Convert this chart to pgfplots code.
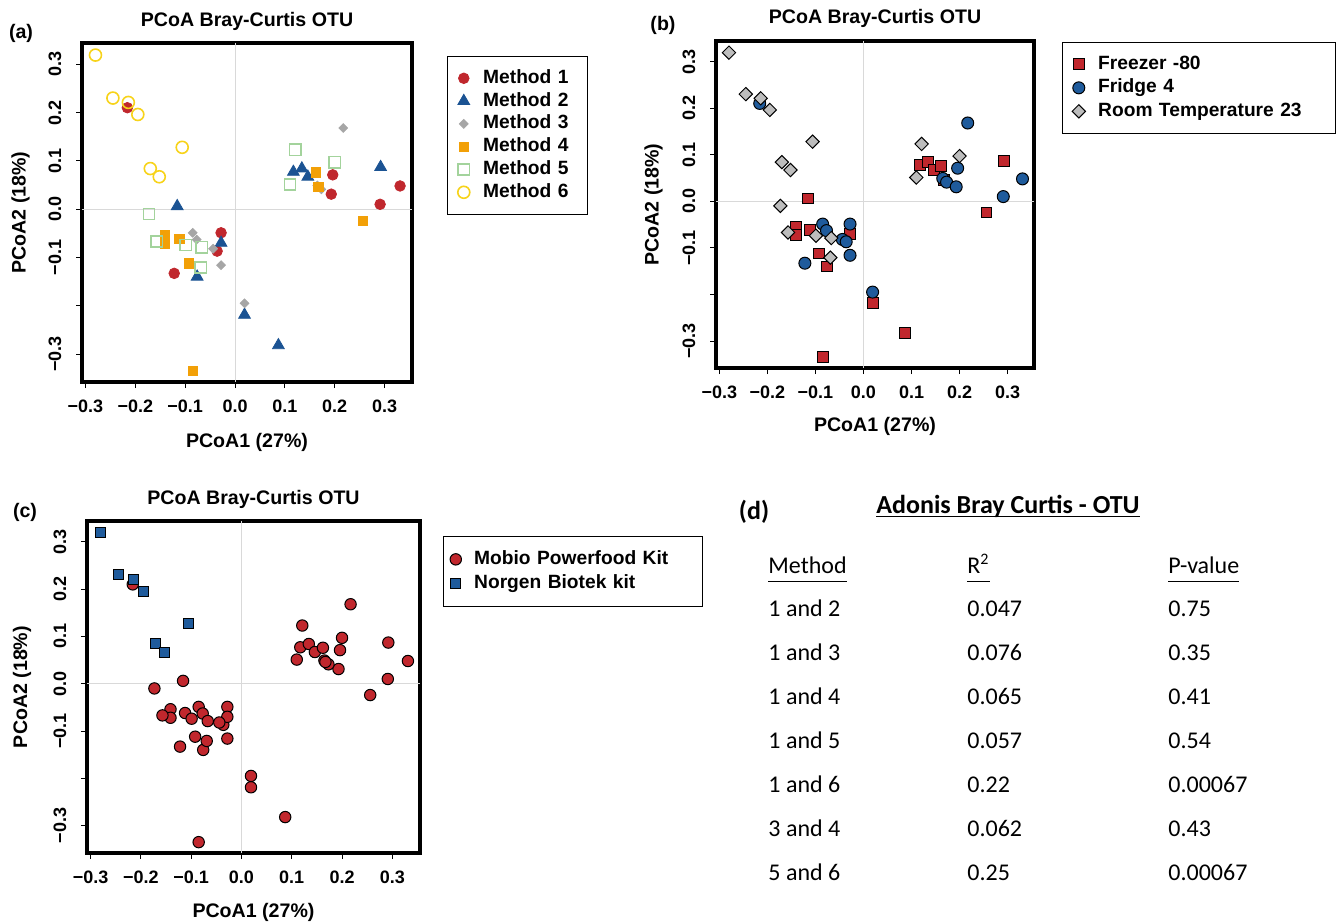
\documentclass[border=0pt]{standalone}
\usepackage{fontspec}
\setmainfont{Liberation Sans}
\newfontfamily\cali{Carlito}
\usepackage{pgfplots}
\pgfplotsset{compat=1.18}

\definecolor{mred}{HTML}{C0272D}
\definecolor{mblue}{HTML}{1B5393}
\definecolor{mgray}{HTML}{A6A6A6}
\definecolor{morange}{HTML}{F2A007}
\definecolor{mgreen}{HTML}{A3D39C}
\definecolor{myellow}{HTML}{F7D31A}
\definecolor{fred}{HTML}{C1272D}
\definecolor{fblue}{HTML}{1F5B9C}
\definecolor{fgray}{HTML}{BDBDBD}

\newcommand{\ulx}[2]{\setbox0\hbox{#2}\rlap{\rule[-#1]{\wd0}{0.6pt}}\box0}

\pgfplotsset{
  lgimg/.style 2 args={legend image code/.code={\path (-#1,0pt) (#2,0pt);
      \draw[##1] plot coordinates {(0pt,0pt)};}},
  pcoa/.style={
    scale only axis, anchor=north west,
    xmin=-0.307, xmax=0.355, ymin=-0.358, ymax=0.344,
    axis line style={line width=1.6pt},
    tick align=outside, xtick pos=left, ytick pos=left,
    major tick length=3pt,
    tick style={black, line width=0.5pt},
    xtick={-0.3,-0.2,-0.1,0,0.1,0.2,0.3},
    ytick={-0.3,-0.2,-0.1,0,0.1,0.2,0.3},
    xticklabels={−0.3,−0.2,−0.1,0.0,0.1,0.2,0.3},
    yticklabels={−0.3,{},−0.1,0.0,0.1,0.2,0.3},
    ticklabel style={font=\fontsize{9}{10}\selectfont\bfseries},
    xticklabel style={anchor=center, yshift=-9.25pt},
    yticklabel style={xshift=-10.5pt, rotate=90, anchor=center},
    extra x ticks={0}, extra y ticks={0},
    extra tick style={grid=major, major grid style={gray!30, line width=0.5pt},
      major tick length=0pt, xticklabel={}, yticklabel={}},
    title={PCoA Bray-Curtis OTU},
    xlabel={PCoA1 (27\%)}, ylabel={PCoA2 (18\%)},
    label style={font=\fontsize{9.8}{11}\selectfont\bfseries},
    title style={font=\fontsize{9.8}{11}\selectfont\bfseries, anchor=center,
      yshift=-7pt},
    legend cell align=left,
  },
}

\begin{document}
\begin{tikzpicture}
\path[use as bounding box] (0,0) rectangle (671pt,-461.5pt);

% ---------------- (a) by method
\begin{axis}[pcoa,
  at={(41pt,-21.5pt)}, width=165pt, height=169.5pt,
  title style={at={(axis description cs:0.5,1.069)}},
  xlabel style={at={(axis description cs:0.5,-0.178)}, anchor=center},
  ylabel style={at={(axis description cs:-0.186,0.5)}, anchor=center},
  legend style={at={(1.106,0.962)}, anchor=north west, inner xsep=0pt,
    inner ysep=5.3pt, row sep=0pt, column sep=0pt,
    font=\fontsize{9.6}{11}\selectfont\bfseries,
    nodes={inner xsep=1.5pt, inner ysep=1.2pt, text height=7pt,
      text depth=2pt, text width=50.5pt}},
]
\addplot[only marks, mark=*, mred, mark size=2.65pt, lgimg={8pt}{8pt}]
  coordinates {(-0.216,0.210)(-0.122,-0.133)(-0.036,-0.087)(-0.028,-0.049)
               (0.193,0.031)(0.196,0.071)(0.291,0.010)(0.331,0.048)};
\addlegendentry{Method 1}
\addplot[only marks, mark=triangle*, mblue, mark size=3.4pt, lgimg={8pt}{8pt}]
  coordinates {(-0.116,0.006)(-0.076,-0.140)(-0.028,-0.070)(0.019,-0.219)
               (0.087,-0.282)(0.117,0.077)(0.134,0.084)(0.146,0.067)(0.292,0.087)};
\addlegendentry{Method 2}
\addplot[only marks, mark=square*, mgray, mark size=1.55pt,
  mark options={rotate=45}, lgimg={8pt}{8pt}]
  coordinates {(-0.085,-0.049)(-0.077,-0.063)(-0.044,-0.082)(-0.028,-0.116)
               (0.019,-0.195)(0.165,0.049)(0.173,0.041)(0.217,0.168)};
\addlegendentry{Method 3}
\addplot[only marks, mark=square*, morange, mark size=2.35pt, lgimg={8pt}{8pt}]
  coordinates {(-0.141,-0.054)(-0.141,-0.072)(-0.112,-0.062)(-0.092,-0.112)
               (-0.085,-0.335)(0.162,0.076)(0.167,0.046)(0.256,-0.024)};
\addlegendentry{Method 4}
\addplot[only marks, mark=square, mgreen, mark size=2.8pt,
  mark options={line width=0.7pt}, lgimg={8pt}{8pt}]
  coordinates {(-0.173,-0.010)(-0.157,-0.067)(-0.099,-0.074)(-0.067,-0.079)
               (-0.069,-0.121)(0.121,0.123)(0.200,0.097)(0.110,0.051)};
\addlegendentry{Method 5}
\addplot[only marks, mark=o, myellow, mark size=3pt,
  mark options={line width=0.8pt}, lgimg={8pt}{8pt}]
  coordinates {(-0.280,0.319)(-0.245,0.230)(-0.214,0.221)(-0.195,0.196)
               (-0.106,0.128)(-0.170,0.084)(-0.152,0.067)};
\addlegendentry{Method 6}
\end{axis}

% ---------------- (b) by storage temperature
\begin{axis}[pcoa,
  at={(358pt,-20.5pt)}, width=159pt, height=163.5pt,
  title style={at={(axis description cs:0.5,1.0765)}},
  xlabel style={at={(axis description cs:0.5,-0.180)}, anchor=center},
  ylabel style={at={(axis description cs:-0.196,0.5)}, anchor=center},
  legend style={at={(1.088,0.997)}, anchor=north west, inner xsep=0pt,
    inner ysep=5.1pt, row sep=0pt, column sep=0pt,
    font=\fontsize{9.6}{11}\selectfont\bfseries,
    nodes={inner xsep=1.5pt, inner ysep=1.375pt, text height=7pt,
      text depth=2pt, text width=117pt}},
]
\addplot[only marks, mark=square*, mark size=2.7pt,
  mark options={fill=fred, draw=black, line width=0.5pt}, lgimg={8pt}{8pt}]
  coordinates {(-0.116,0.006)(-0.141,-0.054)(-0.141,-0.072)(-0.112,-0.062)
               (-0.092,-0.112)(-0.076,-0.140)(-0.028,-0.070)(0.019,-0.219)
               (0.087,-0.282)(-0.085,-0.335)(0.117,0.077)(0.134,0.084)
               (0.146,0.067)(0.162,0.076)(0.167,0.046)(0.256,-0.024)(0.292,0.087)};
\addlegendentry{Freezer -80}
\addplot[only marks, mark=*, mark size=3pt,
  mark options={fill=fblue, draw=black, line width=0.5pt}, lgimg={8pt}{8pt}]
  coordinates {(-0.216,0.210)(-0.122,-0.133)(-0.085,-0.049)(-0.077,-0.063)
               (-0.044,-0.082)(-0.036,-0.087)(-0.028,-0.049)(-0.028,-0.116)
               (0.019,-0.195)(0.165,0.049)(0.173,0.041)(0.193,0.031)
               (0.196,0.071)(0.217,0.168)(0.291,0.010)(0.331,0.048)};
\addlegendentry{Fridge 4}
\addplot[only marks, mark=square*, mark size=2.35pt,
  mark options={rotate=45, fill=fgray, draw=black, line width=0.5pt},
  lgimg={8pt}{8pt}]
  coordinates {(-0.280,0.319)(-0.245,0.230)(-0.214,0.221)(-0.195,0.196)
               (-0.106,0.128)(-0.170,0.084)(-0.152,0.067)(-0.173,-0.010)
               (-0.157,-0.067)(-0.099,-0.074)(-0.067,-0.079)(-0.069,-0.121)
               (0.121,0.123)(0.200,0.097)(0.110,0.051)};
\addlegendentry{Room Temperature 23}
\end{axis}

% ---------------- (c) by extraction kit
\begin{axis}[pcoa,
  at={(43.5pt,-260.5pt)}, width=166.5pt, height=166pt,
  title style={at={(axis description cs:0.5,1.0723)}},
  xlabel style={at={(axis description cs:0.5,-0.178)}, anchor=center},
  ylabel style={at={(axis description cs:-0.195,0.5)}, anchor=center},
  legend style={at={(1.069,0.955)}, anchor=north west, inner xsep=0pt,
    inner ysep=5.5pt, row sep=0pt, column sep=0pt,
    font=\fontsize{9.6}{11}\selectfont\bfseries,
    nodes={inner xsep=1.5pt, inner ysep=1.5pt, text height=7pt,
      text depth=2pt, text width=112.5pt}},
]
\addplot[only marks, mark=*, mark size=2.85pt,
  mark options={fill=fred, draw=black, line width=0.5pt}, lgimg={6pt}{7.5pt}]
  coordinates {(-0.216,0.210)(-0.122,-0.133)(-0.036,-0.087)(-0.028,-0.049)
               (0.193,0.031)(0.196,0.071)(0.291,0.010)(0.331,0.048)
               (-0.116,0.006)(-0.076,-0.140)(-0.028,-0.070)(0.019,-0.219)
               (0.087,-0.282)(0.117,0.077)(0.134,0.084)(0.146,0.067)(0.292,0.087)
               (-0.085,-0.049)(-0.077,-0.063)(-0.044,-0.082)(-0.028,-0.116)
               (0.019,-0.195)(0.165,0.049)(0.173,0.041)(0.217,0.168)
               (-0.141,-0.054)(-0.141,-0.072)(-0.112,-0.062)(-0.092,-0.112)
               (-0.085,-0.335)(0.162,0.076)(0.167,0.046)(0.256,-0.024)
               (-0.173,-0.010)(-0.157,-0.067)(-0.099,-0.074)(-0.067,-0.079)
               (-0.069,-0.121)(0.121,0.123)(0.200,0.097)(0.110,0.051)};
\addlegendentry{Mobio Powerfood Kit}
\addplot[only marks, mark=square*, mark size=2.5pt,
  mark options={fill=fblue, draw=black, line width=0.5pt}, lgimg={6pt}{7.5pt}]
  coordinates {(-0.280,0.319)(-0.245,0.230)(-0.214,0.221)(-0.195,0.196)
               (-0.106,0.128)(-0.170,0.084)(-0.152,0.067)};
\addlegendentry{Norgen Biotek kit}
\end{axis}

% ---------------- panel letters
\begin{scope}[every node/.style={font=\fontsize{9.8}{11}\selectfont\bfseries}]
\node at (10.5pt,-16.5pt) {(a)};
\node at (331.5pt,-12.5pt) {(b)};
\node at (12.5pt,-256pt) {(c)};
\end{scope}

% ---------------- (d) adonis table
\node[font=\cali\bfseries\fontsize{13}{15}\selectfont] at (377pt,-256pt) {(d)};
\node[anchor=base, font=\cali\bfseries\fontsize{13}{15}\selectfont]
  at (504pt,-256.5pt) {\ulx{2pt}{Adonis Bray Curtis - OTU}};
\begin{scope}[every node/.style={anchor=base west, inner sep=0pt,
    font=\cali\fontsize{12}{14}\selectfont}]
\node at (384pt,-286.5pt) {\ulx{4.5pt}{Method}};
\node at (483.5pt,-286.5pt) {\ulx{4.5pt}{R\textsuperscript{2}}};
\node at (584pt,-286.5pt) {\ulx{4.5pt}{P-value}};
\foreach \m/\r/\p [count=\i from 0] in {1 and 2/0.047/0.75, 1 and 3/0.076/0.35,
    1 and 4/0.065/0.41, 1 and 5/0.057/0.54, 1 and 6/0.22/0.00067,
    3 and 4/0.062/0.43, 5 and 6/0.25/0.00067}{
  \node at (384pt,-308pt-22pt*\i) {\m};
  \node at (483.5pt,-308pt-22pt*\i) {\r};
  \node at (584pt,-308pt-22pt*\i) {\p};
}
\end{scope}
\end{tikzpicture}
\end{document}
